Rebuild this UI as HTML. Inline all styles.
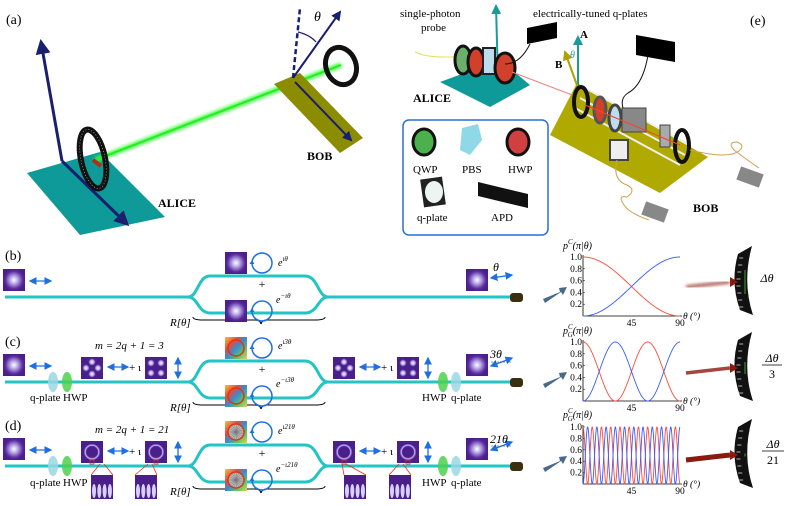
<!DOCTYPE html>
<html><head><meta charset="utf-8"><style>
html,body{margin:0;padding:0;background:#fff;}
svg{display:block;font-family:"Liberation Serif",serif;}
.s{font-family:"Liberation Serif",serif;}
</style></head><body>
<svg id="f" width="789" height="506" viewBox="0 0 789 506" xmlns="http://www.w3.org/2000/svg">
<defs>
<radialGradient id="g" cx="50%" cy="50%" r="50%"><stop offset="0" stop-color="#fff"/><stop offset="0.35" stop-color="#b9a8e8"/><stop offset="0.8" stop-color="#5a2b9e"/><stop offset="1" stop-color="#4a1f8a"/></radialGradient>
<radialGradient id="rg" cx="50%" cy="50%" r="50%"><stop offset="0" stop-color="#4a1f8a"/><stop offset="0.5" stop-color="#4a1f8a"/><stop offset="0.62" stop-color="#c9b8ff"/><stop offset="0.75" stop-color="#4a1f8a"/><stop offset="1" stop-color="#4a1f8a"/></radialGradient>
<radialGradient id="lobe" cx="50%" cy="50%" r="50%"><stop offset="0" stop-color="#fff"/><stop offset="0.6" stop-color="#a792e0"/><stop offset="1" stop-color="#4a1f8a" stop-opacity="0"/></radialGradient>
<linearGradient id="cw" x1="0" y1="0" x2="1" y2="1"><stop offset="0" stop-color="#f2c24a"/><stop offset="0.3" stop-color="#e0503a"/><stop offset="0.5" stop-color="#3a8ad0"/><stop offset="0.75" stop-color="#59c46a"/><stop offset="1" stop-color="#e8d050"/></linearGradient>
<linearGradient id="fr" x1="0" y1="0" x2="1" y2="0" spreadMethod="repeat"><stop offset="0" stop-color="#4a1f8a"/><stop offset="0.5" stop-color="#e8e0ff"/><stop offset="1" stop-color="#4a1f8a"/></linearGradient>
<marker id="ab" markerWidth="6" markerHeight="6" refX="5" refY="3" orient="auto"><path d="M0,0L6,3L0,6z" fill="#1e6fe0"/></marker>
<marker id="abs" markerWidth="6" markerHeight="6" refX="1" refY="3" orient="auto"><path d="M6,0L0,3L6,6z" fill="#1e6fe0"/></marker>
<marker id="an" markerWidth="5" markerHeight="5" refX="4" refY="2.5" orient="auto"><path d="M0,0L5,2.5L0,5z" fill="#1a1f6e"/></marker>
<marker id="at" markerWidth="5" markerHeight="5" refX="4" refY="2.5" orient="auto"><path d="M0,0L5,2.5L0,5z" fill="#1a9a9a"/></marker>
<marker id="ay" markerWidth="5" markerHeight="5" refX="4" refY="2.5" orient="auto"><path d="M0,0L5,2.5L0,5z" fill="#b0a000"/></marker>
<filter id="bl"><feGaussianBlur stdDeviation="1.5"/></filter>
</defs>

<!-- Panel a -->
<text x="6" y="24" font-size="14">(a)</text>
<polygon points="27,173 100,152 165,217 80,235" fill="#0e9a98"/>
<line x1="62" y1="161" x2="41" y2="42" stroke="#1a1f6e" stroke-width="3" marker-end="url(#an)"/>
<line x1="62" y1="161" x2="127" y2="224" stroke="#1a1f6e" stroke-width="3" marker-end="url(#an)"/>
<line x1="95" y1="160" x2="341" y2="65" stroke="#44ff44" stroke-width="5" filter="url(#bl)"/>
<line x1="95" y1="160" x2="341" y2="65" stroke="#22ee22" stroke-width="2"/>
<ellipse cx="93" cy="159" rx="12" ry="30" fill="none" stroke="#111" stroke-width="6" transform="rotate(-12 93 159)"/>
<ellipse cx="93" cy="159" rx="12" ry="30" fill="none" stroke="#ccc" stroke-width="0.6" stroke-dasharray="1 2" transform="rotate(-12 93 159)"/>
<path d="M93,160 l8,6" stroke="#b03010" stroke-width="4"/>
<polygon points="274,84 300,73 363,138 340,153" fill="#8c8c00"/>
<line x1="295" y1="82" x2="351" y2="140" stroke="#1a1f6e" stroke-width="2" marker-end="url(#an)"/>
<line x1="293" y1="78" x2="300" y2="8" stroke="#1a1f6e" stroke-width="2.5" stroke-dasharray="5 3"/>
<line x1="293" y1="78" x2="340" y2="12" stroke="#1a1f6e" stroke-width="2" marker-end="url(#an)"/>
<path d="M298,32 Q310,35 316,42" stroke="#1a1f6e" fill="none" stroke-width="1.2"/>
<text x="314" y="21" font-size="14" font-style="italic">θ</text>
<ellipse cx="341" cy="66" rx="15" ry="19" fill="none" stroke="#111" stroke-width="5" transform="rotate(-20 341 66)"/>
<text x="158" y="207" font-size="12" font-weight="bold">ALICE</text>
<text x="307" y="160" font-size="12" font-weight="bold">BOB</text>

<!-- Panel e -->
<text x="400" y="17" font-size="11" text-anchor="start">single-photon</text>
<text x="421" y="31" font-size="11">probe</text>
<text x="533" y="17" font-size="11">electrically-tuned q-plates</text>
<text x="750" y="25" font-size="14">(e)</text>
<polygon points="440,82 500,60 530,85 490,107" fill="#0e9a98"/>
<path d="M415,52 q10,5 30,5 q20,0 20,-2" stroke="#e8e060" fill="none"/>
<line x1="498" y1="78" x2="496" y2="6" stroke="#1a9a9a" stroke-width="2" marker-end="url(#at)"/>
<ellipse cx="463" cy="60" rx="8" ry="14" fill="#6ab06a" stroke="#111" stroke-width="3"/>
<ellipse cx="476" cy="62" rx="8" ry="14" fill="#d0402a" stroke="#111" stroke-width="3"/>
<rect x="483" y="48" width="12" height="26" fill="#bde" stroke="#222" stroke-width="2"/>
<ellipse cx="505" cy="68" rx="10" ry="15" fill="#d0402a" stroke="#111" stroke-width="3"/>
<polygon points="527,28 557,22 557,38 527,44" fill="#000"/>
<path d="M530,44 q-10,20 -25,20" stroke="#111" fill="none"/>
<line x1="512" y1="72" x2="580" y2="98" stroke="#f08080" stroke-width="1"/>
<text x="413" y="102" font-size="12" font-weight="bold">ALICE</text>
<polygon points="577,83 708,157 660,193 550,135" fill="#b0aa00"/>
<line x1="578" y1="88" x2="578" y2="37" stroke="#1a9a9a" stroke-width="2" marker-end="url(#at)"/>
<line x1="578" y1="88" x2="565" y2="52" stroke="#b0a000" stroke-width="2" marker-end="url(#ay)"/>
<text x="580" y="38" font-size="11" font-weight="bold">A</text>
<text x="555" y="68" font-size="11" font-weight="bold">B</text>
<text x="570" y="58" font-size="10" fill="#1a9a9a" font-style="italic">θ</text>
<g stroke="#eee" stroke-width="2"><line x1="585" y1="88" x2="690" y2="145"/><line x1="580" y1="98" x2="685" y2="155"/><line x1="575" y1="108" x2="680" y2="165"/></g>
<ellipse cx="581" cy="102" rx="7" ry="15" fill="none" stroke="#111" stroke-width="4"/>
<ellipse cx="600" cy="110" rx="6" ry="13" fill="#d0402a" stroke="#555" stroke-width="3"/>
<ellipse cx="615" cy="118" rx="6" ry="13" fill="#bde" stroke="#444" stroke-width="3"/>
<rect x="622" y="108" width="24" height="24" fill="#888" stroke="#444"/>
<rect x="610" y="140" width="18" height="20" fill="#eee" stroke="#444" stroke-width="2"/>
<rect x="660" y="125" width="10" height="22" fill="#aaa" stroke="#444"/>
<ellipse cx="682" cy="146" rx="7" ry="16" fill="none" stroke="#111" stroke-width="4"/>
<line x1="585" y1="105" x2="680" y2="145" stroke="#ff4020" stroke-width="1"/>
<polygon points="636,35 675,42 675,62 636,55" fill="#000"/>
<path d="M648,55 q-5,30 -20,38 q-8,5 -5,15" stroke="#111" fill="none"/>
<path d="M690,150 q40,10 50,0 q5,-5 -3,-8 q-10,0 -3,8 q20,15 25,18" stroke="#d0a050" fill="none"/>
<rect x="738" y="170" width="24" height="14" fill="#888" transform="rotate(20 750 177)"/>
<path d="M617,160 q-5,20 10,25 q10,5 0,12 q-10,-2 -3,8 q5,8 25,15" stroke="#d0a050" fill="none"/>
<rect x="643" y="205" width="24" height="14" fill="#888" transform="rotate(20 655 212)"/>
<text x="693" y="212" font-size="12" font-weight="bold">BOB</text>
<rect x="403" y="120" width="145" height="115" rx="6" fill="#fff" stroke="#2a6fd0" stroke-width="1.5"/>
<ellipse cx="424" cy="142" rx="11" ry="13" fill="#4cb04c" stroke="#111" stroke-width="3"/>
<polygon points="462,128 478,124 482,140 470,155 460,150" fill="#8fd8e8"/>
<ellipse cx="518" cy="142" rx="11" ry="13" fill="#d04040" stroke="#111" stroke-width="3"/>
<text x="413" y="173" font-size="11">QWP</text>
<text x="462" y="173" font-size="11">PBS</text>
<text x="508" y="173" font-size="11">HWP</text>
<rect x="422" y="178" width="22" height="28" fill="#222" transform="rotate(-8 433 192)"/>
<ellipse cx="434" cy="192" rx="9" ry="11" fill="#eef5f0"/>
<polygon points="478,182 528,194 528,208 478,196" fill="#111"/>
<text x="417" y="221" font-size="11">q-plate</text>
<text x="491" y="221" font-size="11">APD</text>

<!-- b,c,d common -->
<g id="rows"></g>
<text x="5" y="260" font-size="14">(b)</text>
<text x="5" y="346" font-size="14">(c)</text>
<text x="5" y="430" font-size="14">(d)</text>
<text x="95" y="349" font-size="11" font-style="italic">m = 2q + 1 = 3</text>
<text x="95" y="433" font-size="11" font-style="italic">m = 2q + 1 = 21</text>
<text x="278" y="266" font-size="10" font-style="italic">e<tspan dy="-5" font-size="7">ιθ</tspan></text>
<text x="276" y="303" font-size="10" font-style="italic">e<tspan dy="-5" font-size="7">−ιθ</tspan></text>
<text x="278" y="349" font-size="10" font-style="italic">e<tspan dy="-5" font-size="7">ι3θ</tspan></text>
<text x="276" y="387" font-size="10" font-style="italic">e<tspan dy="-5" font-size="7">−ι3θ</tspan></text>
<text x="278" y="434" font-size="10" font-style="italic">e<tspan dy="-5" font-size="7">ι21θ</tspan></text>
<text x="276" y="472" font-size="10" font-style="italic">e<tspan dy="-5" font-size="7">−ι21θ</tspan></text>
<text x="493" y="271" font-size="12" font-style="italic">θ</text>
<text x="490" y="358" font-size="12" font-style="italic">3θ</text>
<text x="490" y="443" font-size="12" font-style="italic">21θ</text>
<g font-size="11"><text x="30" y="401">q-plate</text><text x="63" y="401">HWP</text><text x="422" y="401">HWP</text><text x="451" y="401">q-plate</text>
<text x="30" y="486">q-plate</text><text x="63" y="486">HWP</text><text x="422" y="486">HWP</text><text x="451" y="486">q-plate</text></g>

<!-- charts -->
<g id="charts" font-size="10"></g>
<text x="563" y="249" font-size="10" font-style="italic">p<tspan dy="-5" font-size="7">C</tspan><tspan dy="5">(π|θ)</tspan></text>
<text x="563" y="334" font-size="10" font-style="italic">p<tspan dy="-5" font-size="7">C</tspan><tspan dy="8" dx="-5" font-size="7">G</tspan><tspan dy="-3">(π|θ)</tspan></text>
<text x="563" y="418" font-size="10" font-style="italic">p<tspan dy="-5" font-size="7">C</tspan><tspan dy="8" dx="-5" font-size="7">G</tspan><tspan dy="-3">(π|θ)</tspan></text>
<text x="767" y="282" font-size="12" text-anchor="middle" font-style="italic">Δθ</text>
<text x="772" y="362" font-size="12" text-anchor="middle" font-style="italic">Δθ</text><line x1="762" y1="365" x2="782" y2="365" stroke="#000" stroke-width="0.7"/><text x="772" y="378" font-size="12" text-anchor="middle">3</text>
<text x="773" y="448" font-size="12" text-anchor="middle" font-style="italic">Δθ</text><line x1="762" y1="451" x2="784" y2="451" stroke="#000" stroke-width="0.7"/><text x="773" y="464" font-size="12" text-anchor="middle">21</text>
</svg>
<script>
var NS="http://www.w3.org/2000/svg",rows=document.getElementById("rows"),ch=document.getElementById("charts");
function el(p,t,a,tx){var e=document.createElementNS(NS,t);for(var k in a)e.setAttribute(k,a[k]);if(tx)e.textContent=tx;p.appendChild(e);return e;}
function sq(x,y,f){el(rows,"rect",{x:x,y:y,width:22,height:22,fill:f});}
function lobes(x,y,n){el(rows,"rect",{x:x,y:y,width:22,height:22,fill:"#4a1f8a"});var p=n==4?[[6,6],[16,6],[6,16],[16,16]]:[[11,5],[5,11],[17,11],[11,17]];p.forEach(function(c){el(rows,"circle",{cx:x+c[0],cy:y+c[1],r:4,fill:"url(#lobe)"});});}
function darr(x1,y1,x2,y2){el(rows,"line",{x1:x1,y1:y1,x2:x2,y2:y2,stroke:"#1e6fe0","stroke-width":1.3,"marker-end":"url(#ab)","marker-start":"url(#abs)"});}
function circ(cx,cy){el(rows,"circle",{cx:cx,cy:cy,r:10,fill:"none",stroke:"#1e6fe0","stroke-width":1.5});el(rows,"path",{d:"M"+(cx-10)+","+(cy-3)+"l-2.5,4 l5,0z",fill:"#1e6fe0"});}
var Y=[297,382,466];
Y.forEach(function(y,i){
 var u=y-21,d=y+16;
 el(rows,"path",{d:"M5,"+y+" L188,"+y+" C198,"+y+" 198,"+u+" 210,"+u+" L305,"+u+" C318,"+u+" 318,"+y+" 328,"+y+" L512,"+y,fill:"none",stroke:"#22c4c4","stroke-width":3});
 el(rows,"path",{d:"M188,"+y+" C198,"+y+" 198,"+d+" 210,"+d+" L305,"+d+" C318,"+d+" 318,"+y+" 328,"+y,fill:"none",stroke:"#22c4c4","stroke-width":3});
 el(rows,"rect",{x:510,y:y-4,width:13,height:9,rx:3,fill:"#3a3010"});
 el(rows,"text",{x:262,y:u+12,"font-size":12,"text-anchor":"middle"},"+");
 el(rows,"text",{x:170,y:y+29,"font-size":11,"font-style":"italic"},"R[θ]");
 el(rows,"path",{d:"M193,"+(y+20)+" q0,3 10,3 L255,"+(y+23)+" q5,0 6,4 q1,-4 6,-4 L315,"+(y+23)+" q10,0 10,-3",fill:"none",stroke:"#000","stroke-width":1});
 var cf=i==0?"url(#g)":"url(#cw)";
 [u-24,d-13].forEach(function(yy){sq(225,yy,cf);if(i>0){el(rows,"circle",{cx:236,cy:yy+11,r:8,fill:i==2?"#bbb":"none",stroke:"#e83010","stroke-width":1.5});if(i==2)for(var a=0;a<21;a++){var t=a*Math.PI/10.5;el(rows,"line",{x1:236,y1:yy+11,x2:236+8*Math.cos(t),y2:yy+11+8*Math.sin(t),stroke:"#777","stroke-width":0.5});}}circ(262,yy+11);});
 sq(3,y-28,"url(#g)");darr(30,y-16,51,y-16);
 sq(466,y-28,"url(#g)");
 if(i==0)darr(491,y-19,512,y-22);else{el(rows,"line",{x1:491,y1:y-16,x2:512,y2:y-24,stroke:"#1e6fe0","stroke-width":1.3,"marker-end":"url(#ab)","marker-start":"url(#abs)"});el(rows,"line",{x1:491,y1:y-20,x2:512,y2:y-20,stroke:"#333","stroke-width":0.6,"stroke-dasharray":"2 1"});}
 if(i>0){
  [[53,"#9ad8e4"],[67,"#4cd04c"],[443,"#4cd04c"],[456,"#9ad8e4"]].forEach(function(q){el(rows,"ellipse",{cx:q[0],cy:y,rx:5,ry:10,fill:q[1],opacity:0.85});});
  if(i==1){lobes(81,y-25,0);lobes(145,y-25,4);lobes(333,y-25,0);lobes(397,y-25,4);}
  else{[81,145,333,397].forEach(function(x){el(rows,"rect",{x:x,y:y-25,width:22,height:22,fill:"url(#rg)"});el(rows,"rect",{x:x+9,y:y-6,width:4,height:4,fill:"none",stroke:"#e83010","stroke-width":0.8});});
   [[91,98],[135,146],[344,340],[389,397]].forEach(function(p){var fx=p[0];el(rows,"rect",{x:fx,y:y+9,width:22,height:24,fill:"#4a1f8a"});for(var k=0;k<4;k++)el(rows,"ellipse",{cx:fx+3+k*5.3,cy:y+25,rx:2,ry:7,fill:"#d8d0ff"});el(rows,"line",{x1:p[1]+2,y1:y-2,x2:fx,y2:y+9,stroke:"#e83010","stroke-width":0.8});el(rows,"line",{x1:p[1]+6,y1:y-2,x2:fx+22,y2:y+9,stroke:"#e83010","stroke-width":0.8});});}
  darr(108,y-15,128,y-15);el(rows,"text",{x:129,y:y-11,"font-size":11},"+ ι");darr(178,y-24,178,y-4);
  darr(360,y-15,380,y-15);el(rows,"text",{x:381,y:y-11,"font-size":11},"+ ι");darr(428,y-24,428,y-4);
 }
 // gray arrow
 el(rows,"path",{d:"M543,"+(y+2)+" L560,"+(y-5)+" L559,"+(y-9)+" L567,"+(y-10)+" L563,"+(y-2)+" L561,"+(y-5)+" L545,"+(y+6)+"z",fill:"#4a6a8a"});
});
var C=[[257,316,1],[342,401,3],[427,484,21]];
C.forEach(function(c,i){
 var x0=583,x1=680,t=c[0],b=c[1],m=c[2],h=b-t;
 el(ch,"line",{x1:x0,y1:t-2,x2:x0,y2:b,stroke:"#000","stroke-width":0.8});
 el(ch,"line",{x1:x0,y1:b,x2:x1+2,y2:b,stroke:"#000","stroke-width":0.8});
 [1,0.8,0.6,0.4,0.2].forEach(function(v){var yy=b-v*h;el(ch,"text",{x:x0-1,y:yy+3,"text-anchor":"end","font-size":9.5},v.toFixed(1));el(ch,"line",{x1:x0,y1:yy,x2:x0+2,y2:yy,stroke:"#000","stroke-width":0.5});});
 el(ch,"text",{x:(x0+x1)/2,y:b+10,"text-anchor":"middle","font-size":9.5},"45");
 el(ch,"text",{x:x1,y:b+10,"text-anchor":"middle","font-size":9.5},"90");
 el(ch,"text",{x:x1+3,y:b+3,"font-size":9.5,"font-style":"italic"},"θ (°)");
 var pr="",pb="",N=m==21?600:120;
 for(var k=0;k<=N;k++){var th=k/N*Math.PI/2,x=x0+(x1-x0)*k/N,r=Math.cos(m*th)**2;pr+=(k?"L":"M")+x.toFixed(2)+","+(b-r*h).toFixed(2);pb+=(k?"L":"M")+x.toFixed(2)+","+(b-(1-r)*h).toFixed(2);}
 el(ch,"path",{d:pr,fill:"none",stroke:"#ff4a3a","stroke-width":0.9});
 el(ch,"path",{d:pb,fill:"none",stroke:"#3a5aff","stroke-width":0.9});
 // gauge
 var gy=[282,368,455][i],gx=748;
 el(ch,"path",{d:"M"+(gx-10)+","+(gy-28)+" Q"+(gx-18)+","+gy+" "+(gx-8)+","+(gy+28)+" L"+(gx+5)+","+(gy+33)+" Q"+(gx-6)+","+gy+" "+(gx+4)+","+(gy-36)+"z",fill:"#111"});
 for(var k=0;k<8;k++){var yy=gy-24+k*7;el(ch,"line",{x1:gx-12+Math.abs(k-3.5)*0.9,y1:yy,x2:gx-8+Math.abs(k-3.5)*0.9,y2:yy,stroke:"#ddd","stroke-width":0.8});}
 var sp=[12,6,1.5][i];
 el(ch,"line",{x1:gx-3,y1:gy-sp,x2:gx-3,y2:gy+sp,stroke:"#3a8a2a","stroke-width":1.2});
 var w=[2,2.5,4][i];
 el(ch,"line",{x1:gx-62,y1:gy+5,x2:gx-18,y2:gy,stroke:"#8a1a10","stroke-width":w+1,filter:i==0?"url(#bl)":"",opacity:i==2?1:0.8});
 el(ch,"path",{d:"M"+(gx-18)+","+(gy-5)+" l8,5 l-8,5z",fill:"#8a1a10"});
});
</script>
</body></html>
